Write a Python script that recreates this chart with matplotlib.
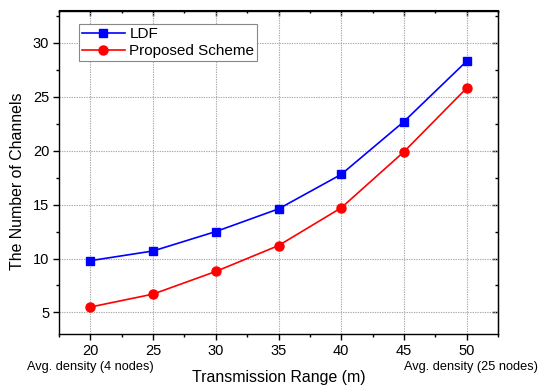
import matplotlib
matplotlib.use("Agg")
import matplotlib.pyplot as plt
from matplotlib.ticker import MultipleLocator

plt.rcParams['font.family'] = ['Liberation Sans', 'DejaVu Sans']

ranges = [20, 25, 30, 35, 40, 45, 50]
ldf = [9.8, 10.7, 12.5, 14.6, 17.8, 22.7, 28.3]
proposed = [5.5, 6.7, 8.8, 11.2, 14.7, 19.9, 25.8]
series_names = ["LDF", "Proposed Scheme"]
xlabel = "Transmission Range (m)"
ylabel = "The Number of Channels"
note_left = "Avg. density (4 nodes)"
note_right = "Avg. density (25 nodes)"

fig = plt.figure(figsize=(5.5, 3.92), dpi=100)
ax = fig.add_axes([59/550, 1-334/392, (498-59)/550, (334-10.5)/392])

ax.plot(ranges, ldf, color='#0000ff', lw=1.2, marker='s', ms=5.5, label=series_names[0], zorder=3)
ax.plot(ranges, proposed, color='#ff0000', lw=1.2, marker='o', ms=6.5, label=series_names[1], zorder=3)

ax.set_xlim(17.5, 52.5)
ax.set_ylim(3, 33)
ax.xaxis.set_major_locator(MultipleLocator(5))
ax.xaxis.set_minor_locator(MultipleLocator(2.5))
ax.yaxis.set_major_locator(MultipleLocator(5))
ax.yaxis.set_minor_locator(MultipleLocator(2.5))

ax.grid(True, which='major', color='#aaaaaa', linestyle=(0, (1.2, 1)), linewidth=0.8)
ax.set_axisbelow(True)

for s in ax.spines.values():
    s.set_linewidth(1.0)

ax.tick_params(axis='both', which='both', direction='out', labelsize=10.5, width=1.0)
ax.tick_params(which='major', length=4, pad=3)
ax.tick_params(which='minor', length=2.5)

# inward ticks on top and right
axt = ax.secondary_xaxis('top')
axt.xaxis.set_major_locator(MultipleLocator(5))
axt.xaxis.set_minor_locator(MultipleLocator(2.5))
axt.tick_params(which='both', direction='in', labeltop=False, width=1.0)
axt.tick_params(which='major', length=4)
axt.tick_params(which='minor', length=2.5)
axt.set_xticklabels([])
axr = ax.secondary_yaxis('right')
axr.yaxis.set_major_locator(MultipleLocator(5))
axr.yaxis.set_minor_locator(MultipleLocator(2.5))
axr.tick_params(which='both', direction='in', labelright=False, width=1.0)
axr.tick_params(which='major', length=4)
axr.tick_params(which='minor', length=2.5)
axr.set_yticklabels([])

ax.set_xlabel(xlabel, fontsize=11.4, labelpad=9)
ax.set_ylabel(ylabel, fontsize=11.4)
ax.yaxis.set_label_coords(-0.0945, 0.471)
ax.yaxis.label.set_va('center')

ax.annotate(note_left, xy=(ranges[0], 0), xycoords=('data', 'axes fraction'),
            xytext=(0, -24), textcoords='offset points', ha='center', va='center', fontsize=9.2)
ax.annotate(note_right, xy=(ranges[-1], 0), xycoords=('data', 'axes fraction'),
            xytext=(3, -24), textcoords='offset points', ha='center', va='center', fontsize=9.2)

leg = ax.legend(loc='upper left', bbox_to_anchor=(20/439, 1-13.5/323.5), fontsize=11,
                fancybox=False, edgecolor='#888888', framealpha=1,
                borderpad=0.2, labelspacing=0.2, handlelength=2.8, handletextpad=0.3,
                borderaxespad=0)
leg.get_frame().set_linewidth(0.8)

fig.savefig("out.png", dpi=100)
